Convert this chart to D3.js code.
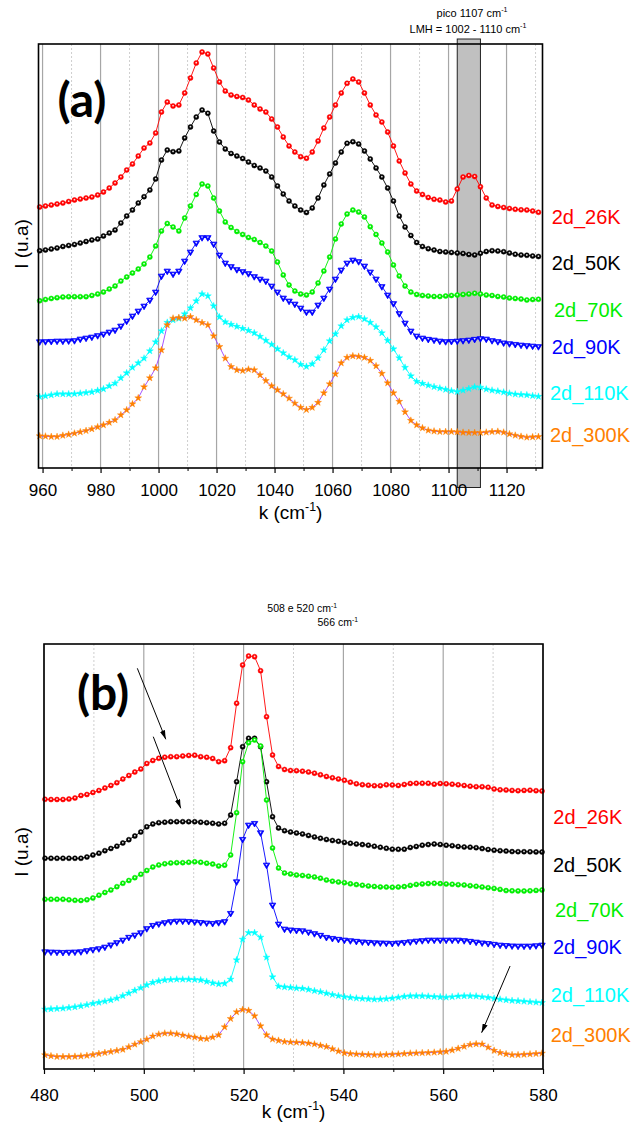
<!DOCTYPE html>
<html><head><meta charset="utf-8">
<script src="https://cdn.jsdelivr.net/npm/d3@7"></script>
<style>body{margin:0;background:#fff}svg{display:block}</style>
</head><body>
<svg id="chart" width="633" height="1129"></svg>
<script>
// ---------- DATA ----------
const seriesNames  = ["2d_26K","2d_50K","2d_70K","2d_90K","2d_110K","2d_300K"];
const seriesColors = ["#ff0000","#000000","#00ee00","#0000ff","#00ffff","#ff8000"];
const lineColors   = ["#ff0000","#000000","#00ee00","#0000ff","#00ffff","#9b40ff"];
const seriesShapes = ["circle","circle","circle","triangleDown","star","star"];

// Panel (a): wavenumber k (cm-1)
const kA = [959,961,963,965,967,969,971,973,975,977,979,981,983,985,987,989,991,993,995,997,
999,1001,1003,1005,1007,1009,1011,1013,1015,1017,1019,1021,1023,1025,1027,1029,1031,1033,1035,1037,
1039,1041,1043,1045,1047,1049,1051,1053,1055,1057,1059,1061,1063,1065,1067,1069,1071,1073,1075,1077,
1079,1081,1083,1085,1087,1089,1091,1093,1095,1097,1099,1101,1103,1105,1107,1109,1111,1113,1115,1117,
1119,1121,1123,1125,1127,1129,1131];
const a26 = [261,262,263,264,265,266.5,268,269,270,271,
273,276,280,285,291,298,304,312,320,325,
335,356,366,362,363,375,390,405,416,414,
400,386,377,373,371.5,370.5,368,363,359,356,
349,341,331,322,316,311.3,309.7,316,327,340,
351,363,375,384.7,389,386,375,363,353,346,
336,322,307,295,284,277,273.5,270.5,268.7,268,
266,267,279,291,292.5,291.5,281.3,270,263,261.5,
260.5,259.5,258.7,258.2,258,257,255.7];
const a50 = [217.3,218,219,220,221.5,222.5,223.5,225,226.5,228,
229,232,235,238,245,252,258,265,271.3,278,
289,308,318,316.3,317,330,341,351,358,354.7,
337,326,319,314.5,312,309.5,306,302.5,300,297,
291,282,274,267,262,258,255.5,260,270,283,
294,305,316,324.7,326.3,324,317,309,300,291,
280,267,252,241,232.5,225.5,221.5,219.3,218,216.5,
216,215.5,215,214.5,213.5,213,214.7,216.5,217.3,217,
216.3,215,213.7,213,212.7,212,211.5];
const a70 = [167.3,168.5,169.5,170.3,171,171.3,171.3,171.3,171.3,172.5,
174,176,179,182,187,191,195,199,204,211,
222,237,244.5,241,237,250,262,273.5,284,282,
270,257,246,240.5,236.5,233.5,230.5,228.5,225.5,222,
217,206,193,183,177,174,173,176,185,197,
211,229,244,254,258,256,251,241.3,233.5,225,
216,203,192,182,176,173.5,172.5,172,171.5,171.5,
172,172.5,173,173.5,174,174.7,174,173,172.5,171.5,
171,170,169.5,169,168,168.5,168.7];
const a90 = [126.3,126.5,126.7,127,127,127.2,127.5,129,130,131,
132.5,134,136,138,142,147,152,157,162,168,
176,192,197,194,197,207,216,225,230.5,230.5,
224,213,205,201.5,198.5,196.5,194.5,191.5,189,187,
182,176,170,167,164,160,156,156,163,170,
179,189,198,205,208,206.5,202,196,189,181.5,
173,164.5,154.5,145,137,132,130,128.8,128,127,
126.5,126.7,127,127.5,128,128.8,129.5,129,127.5,126.5,
125.2,124.4,123.7,123,122.5,122,121.5];
const a110 = [71.3,72,73,74,74,74,74.2,74.7,75.3,76,
77.5,79,82,84.7,90,95,100.5,105,109.7,117,
126,137,145.5,148,149.5,154,160,167,174,172,
162,151,146,143.5,141.5,139.5,137.5,135,131.5,127.5,
123.5,119,115,111,108,103.5,101.5,104,110,118,
127,134,142,148,150.5,151.3,149,145.5,141,135,
127.5,119,110,100.5,92,86.5,84.5,82.7,81.2,79.8,
78.5,77.2,76.3,77.7,79.3,81,80.7,78.8,77.7,76.8,
75.8,74.7,73.8,73.4,73,72.2,71.5];
const a300 = [32,31.7,31.3,31.3,32.5,33.5,34.7,36,37.3,39,
41,43,45.5,48,53,58,64,70,81,90,
100,118,143,149.7,150.3,149.7,151.3,148,145.3,143,
132,121.3,109.7,101.3,98,97.3,98.7,98,93,87.3,
82,78,74,69.7,64.7,60.5,58.3,60.5,65.5,75,
84,94,105,110.5,112,111.5,110.5,107.5,102,94.5,
85,75,66.5,56,47.5,43,40,37.7,36.8,36.3,
36.3,36.3,36,35.5,35.3,35.3,35.3,35.7,36.3,36.5,
35.7,34,32.6,31.5,30.7,31,31.3];
const majorTicksA = [960,980,1000,1020,1040,1060,1080,1100,1120];
const minorTicksA = [970,990,1010,1030,1050,1070,1090,1110,1130];
const bandA = [1103,1111];
const labelLevelsA = [251.3,204.7,158,121.3,74.7,33];

// Panel (b)
const kB = [480.2,481.4,482.6,483.8,485.0,486.2,487.4,488.6,489.8,491.0,
492.2,493.4,494.6,495.8,497.0,498.2,499.4,500.6,501.8,503.0,
504.2,505.4,506.6,507.8,509.0,510.2,511.4,512.6,513.8,515.0,
516.2,517.4,518.6,519.8,521.0,522.2,523.4,524.6,525.8,527.0,
528.2,529.4,530.6,531.8,533.0,534.2,535.4,536.6,537.8,539.0,
540.2,541.4,542.6,543.8,545.0,546.2,547.4,548.6,549.8,551.0,
552.2,553.4,554.6,555.8,557.0,558.2,559.4,560.6,561.8,563.0,
564.2,565.4,566.6,567.8,569.0,570.2,571.4,572.6,573.8,575.0,
576.2,577.4,578.6,579.8];
const b26 = [269.7,269.5,269.5,269.5,270,271,273.5,274.5,276.5,278.5,
281,283.5,286.3,290,293.5,297,300,305.5,308.5,310.7,
311.8,312.3,312.3,313,313.5,313.8,312.3,311.7,310.5,307.3,
308.3,321.3,365.7,404,413,412.3,398.3,352.3,314,302.5,
299.5,298.5,298.3,297.8,297,295.8,294.2,292.5,291.2,290,
288.7,286.8,285.2,284.3,283.8,283.3,283.3,284.2,284,283.5,
284.5,285.5,285.7,285.7,285.7,284.8,285.5,285.2,284.8,284.2,
283.5,282.8,282.3,282.3,281.7,280,279.2,279,278.6,278.3,
278.6,278.8,278.3,278];
const b50 = [210.7,210.7,210.7,210.7,210.7,210.7,210.7,212,214,215.8,
218.3,220.5,222.8,226,229.3,233,237,242.2,245,246.3,
246.8,247.3,247.3,247.3,247.3,247.3,246.8,246.3,245.7,245,
245.7,254,287.3,322.3,330.7,330.7,322.3,287.3,252.3,241,
238.3,237,236,235,233.5,232,230.7,229.5,228.5,227.7,
226.6,225.7,225,224.4,223.8,222.7,221.7,220.7,219.8,219.7,
219.8,221.5,222.5,223.8,224.4,225,224.5,223.8,223.3,222.5,
222,221.8,221.3,220.4,219.5,218.8,218.3,217.9,217.4,217.3,
217.3,217.2,217.1,217];
const b70 = [169.7,169.7,169.7,169.7,169.2,168.7,168.5,169.2,171,173.8,
176.5,179,182.3,185.7,188.5,191.3,194.7,198.5,202,204,
205.2,206,206.3,206.3,206.7,207.2,206.7,205.8,204.9,203,
203.8,214,256.3,307.3,326.3,329,323,269,221,201,
196,195,194,193.5,192.8,192,190.8,189,187.8,187,
186.3,185.2,184.4,183.7,183,182.5,182.1,181.9,181.7,182,
182.4,183.6,184.6,185.1,185.4,185.7,185.4,185,184.7,184.3,
184,183.3,182.7,182,181.3,180.6,179.6,178.4,178.2,178.1,
178,178.2,178.6,179];
const b90 = [117.3,117.1,116.9,116.7,116.9,117.1,117.4,118.5,119.5,120.4,
122,124.2,126.5,129,131.8,134,136.3,140.5,143.7,145.2,
146.5,147.5,148,148,147.7,147.2,146.6,146.1,145.7,146.5,
147.5,155.7,187.3,229.7,244,245.7,236.3,204,164,145,
140,139.2,138.7,138.3,137,135.5,133.8,131.7,130.7,129.8,
129,128.4,127.8,127.2,126.8,126.4,126.2,126,125.7,126.2,
126.7,127.3,128,128.5,129,129,129,129,129,129,
128.5,127.8,127,126.2,125.6,124.8,124,123.6,123.2,123,
123,123,123.4,124];
const b110 = [59.7,60,60.3,60.7,61.3,62,63,64.2,65.5,66.5,
67.7,69,70.7,73.2,75.8,78.5,81.2,84,86.5,88,
89,89.4,89.7,89.7,89.7,89.4,89,87.5,86,85,
85.5,89.7,109,129.7,136.3,136.3,131.7,111.7,92,82.7,
82,81.5,80.8,80.5,79.5,78.2,77.2,75.7,74.3,73.2,
72.2,71.5,70.8,70.4,70,69.7,69.8,70.2,70.8,71.6,
72.5,73,73,73,72.7,72.3,72,71.7,72.2,72.8,
73,73,72.8,72.2,71.5,70.6,69.7,69,68.4,68,
67.6,67.1,66.7,66.3];
const b300 = [14,13,12.3,12.3,12.3,12.5,12.8,13.4,14.3,15.3,
16.3,17.3,18.4,19.5,22,24.7,27.2,29.7,32.8,34.7,
35.7,35.7,35,33.8,32.7,31.8,30.5,30.2,31.8,34,
42,50.3,57,59.4,58.5,53,43,34,29.8,28.5,
27.3,26.9,26.6,26.4,25.8,24.9,23.5,22.3,20,17.8,
16,15.3,14.9,14.6,14.3,14.1,14.1,14.4,14.7,14.9,
15.3,15.7,15.9,16.1,16.3,16.6,17,17.5,18.8,20.5,
22.5,24.4,25,24.8,21.7,18.5,16.3,15,14.2,14.1,
14.5,14.9,15.3,15.7];
const majorTicksB = [480,500,520,540,560,580];
const minorTicksB = [490,510,530,550,570];
const labelLevelsB = [252.3,204,159,122.3,74,34];
// arrows in panel (b): [k1, I1, k2, I2]
const arrowsB = [[498.7,400.7,504.4,329.7],[501.9,332.3,507.4,260.7],[573.4,103,567.7,36.3]];

// ---------- DRAWING ----------
const FONT = "'Liberation Sans', Arial, Helvetica, sans-serif";
const svg = d3.select("#chart");
const defs = svg.append("defs");
defs.append("marker").attr("id","arrowhead").attr("viewBox","0 0 10 6")
  .attr("refX",10).attr("refY",3).attr("markerWidth",9).attr("markerHeight",5.4)
  .attr("markerUnits","userSpaceOnUse").attr("orient","auto")
  .append("path").attr("d","M0,0 L10,3 L0,6 Z").attr("fill","#000");

function supText(sel, before, sup, after, fs) {
  sel.append("tspan").text(before);
  sel.append("tspan").attr("dy", -fs*0.42).attr("font-size", fs*0.65).text(sup);
  if (after) sel.append("tspan").attr("dy", fs*0.42).text(after);
}

function panel(o) {
  const x = d3.scaleLinear().domain(o.xDomain).range([o.left, o.right]);
  const y = d3.scaleLinear().domain(o.yDomain).range([o.bottom, o.top]);
  const g = svg.append("g");

  // grid
  g.selectAll(null).data(o.minor).join("line")
    .attr("x1",d=>x(d)).attr("x2",d=>x(d)).attr("y1",o.top).attr("y2",o.bottom)
    .attr("stroke","#c8c8c8").attr("stroke-width",0.9).attr("stroke-dasharray","2,2");
  g.selectAll(null).data(o.major).join("line")
    .attr("x1",d=>x(d)).attr("x2",d=>x(d)).attr("y1",o.top).attr("y2",o.bottom)
    .attr("stroke","#a6a6a6").attr("stroke-width",1.2);

  // highlighted band
  if (o.band) {
    g.append("rect").attr("x",x(o.band[0])).attr("width",x(o.band[1])-x(o.band[0]))
      .attr("y",o.top-5).attr("height",o.bottom-o.top+24.5)
      .attr("fill","#c0c0c0").attr("stroke","#222").attr("stroke-width",1);
  }

  // series
  o.series.forEach((vals, s) => {
    const data = o.k.map((k,i)=>({k, v: vals[i]}));
    const color = seriesColors[s];
    g.append("path").datum(data)
      .attr("d", d3.line().x(d=>x(d.k)).y(d=>y(d.v)))
      .attr("fill","none").attr("stroke", lineColors[s]).attr("stroke-width",0.9);
    const shape = seriesShapes[s];
    const mg = g.append("g");
    if (shape === "circle") {
      mg.selectAll(null).data(data).join("circle")
        .attr("cx",d=>x(d.k)).attr("cy",d=>y(d.v)).attr("r",2.5)
        .attr("fill",color).attr("stroke",color).attr("stroke-width",0.5);
      mg.selectAll(null).data(data).join("circle")
        .attr("cx",d=>x(d.k)).attr("cy",d=>y(d.v)-0.3).attr("r",0.9)
        .attr("fill","#fff").attr("opacity",0.85);
    } else if (shape === "triangleDown") {
      const p = d3.symbol().type(d3.symbolTriangle).size(18)();
      mg.selectAll(null).data(data).join("path").attr("d",p)
        .attr("transform",d=>`translate(${x(d.k)},${y(d.v)}) rotate(180)`)
        .attr("fill",color).attr("stroke",color).attr("stroke-width",0.8);
      const pi = d3.symbol().type(d3.symbolTriangle).size(2.5)();
      mg.selectAll(null).data(data).join("path").attr("d",pi)
        .attr("transform",d=>`translate(${x(d.k)},${y(d.v)-0.4}) rotate(180)`)
        .attr("fill","#fff").attr("opacity",0.85);
    } else {
      const p = d3.symbol().type(d3.symbolStar).size(15)();
      mg.selectAll(null).data(data).join("path").attr("d",p)
        .attr("transform",d=>`translate(${x(d.k)},${y(d.v)})`)
        .attr("fill",color).attr("stroke",color).attr("stroke-width",0.4);
    }
  });

  // frame
  g.append("rect").attr("x",o.left).attr("y",o.top)
    .attr("width",o.right-o.left).attr("height",o.bottom-o.top)
    .attr("fill","none").attr("stroke","#000").attr("stroke-width",1.6);

  // axes
  const axMaj = d3.axisBottom(x).tickValues(o.major).tickSize(5).tickPadding(o.tickPad)
    .tickFormat(d3.format("d"));
  const ag = g.append("g").attr("transform",`translate(0,${o.bottom})`).call(axMaj);
  ag.select(".domain").remove();
  ag.selectAll("line").attr("stroke","#000").attr("stroke-width",1.2);
  ag.selectAll("text").attr("font-family",FONT).attr("font-size",17).attr("fill","#000");
  const axMin = d3.axisBottom(x).tickValues(o.minor).tickSize(3).tickFormat("");
  const ag2 = g.append("g").attr("transform",`translate(0,${o.bottom})`).call(axMin);
  ag2.select(".domain").remove();
  ag2.selectAll("line").attr("stroke","#000").attr("stroke-width",1);

  // axis titles
  const xt = g.append("text").attr("x",(o.left+o.right)/2).attr("y",o.xTitleY)
    .attr("text-anchor","middle").attr("font-family",FONT).attr("font-size",19);
  supText(xt, "k (cm", "-1", ")", 19);
  g.append("text").attr("transform",`translate(${o.yTitleX},${o.yTitleY}) rotate(-90)`)
    .attr("text-anchor","middle").attr("font-family",FONT).attr("font-size",19)
    .text("I (u.a)");

  // panel letter
  g.append("text").attr("x",o.letterX).attr("y",o.letterY).attr("text-anchor","middle")
    .attr("font-family","Lato, 'Liberation Sans', sans-serif").attr("font-weight",700)
    .attr("font-size",48).text(o.letter);

  // series labels
  seriesNames.forEach((nm, s) => {
    g.append("text").attr("x",o.labelX[s]).attr("y",y(o.labelLevels[s])+7)
      .attr("font-family",FONT).attr("font-size",20).attr("fill",seriesColors[s]).text(nm);
  });
  return {g, x, y};
}

// Panel (a)
const pa = panel({
  left:38.5, right:542.5, top:44, bottom:468,
  xDomain:[958.6,1132.4], yDomain:[0,424],
  k:kA, series:[a26,a50,a70,a90,a110,a300],
  major:majorTicksA, minor:minorTicksA, band:bandA,
  tickPad:11, xTitleY:519, yTitleX:28, yTitleY:244,
  letter:"(a)", letterX:82, letterY:117,
  labelX:[551.7,551.7,554,551.7,550,550], labelLevels:labelLevelsA
});
const ta1 = pa.g.append("text").attr("x",472).attr("y",17).attr("text-anchor","middle")
  .attr("font-family",FONT).attr("font-size",11);
supText(ta1, "pico 1107 cm", "-1", null, 11);
const ta2 = pa.g.append("text").attr("x",468).attr("y",33).attr("text-anchor","middle")
  .attr("font-family",FONT).attr("font-size",11);
supText(ta2, "LMH = 1002 - 1110 cm", "-1", null, 11);

// Panel (b)
const pb = panel({
  left:44, right:543, top:644, bottom:1069,
  xDomain:[480,580], yDomain:[0,425],
  k:kB, series:[b26,b50,b70,b90,b110,b300],
  major:majorTicksB, minor:minorTicksB, band:null,
  tickPad:15, xTitleY:1118, yTitleX:28, yTitleY:852,
  letter:"(b)", letterX:103, letterY:710,
  labelX:[553.3,553,555,553,550.7,550.7], labelLevels:labelLevelsB
});
const tb1 = pb.g.append("text").attr("x",337).attr("y",612).attr("text-anchor","end")
  .attr("font-family",FONT).attr("font-size",10.5);
supText(tb1, "508 e 520 cm", "-1", null, 10.5);
const tb2 = pb.g.append("text").attr("x",358).attr("y",626).attr("text-anchor","end")
  .attr("font-family",FONT).attr("font-size",10.5);
supText(tb2, "566 cm", "-1", null, 10.5);

pb.g.selectAll(null).data(arrowsB).join("line")
  .attr("x1",d=>pb.x(d[0])).attr("y1",d=>pb.y(d[1]))
  .attr("x2",d=>pb.x(d[2])).attr("y2",d=>pb.y(d[3]))
  .attr("stroke","#000").attr("stroke-width",1).attr("marker-end","url(#arrowhead)");
</script>
</body></html>
